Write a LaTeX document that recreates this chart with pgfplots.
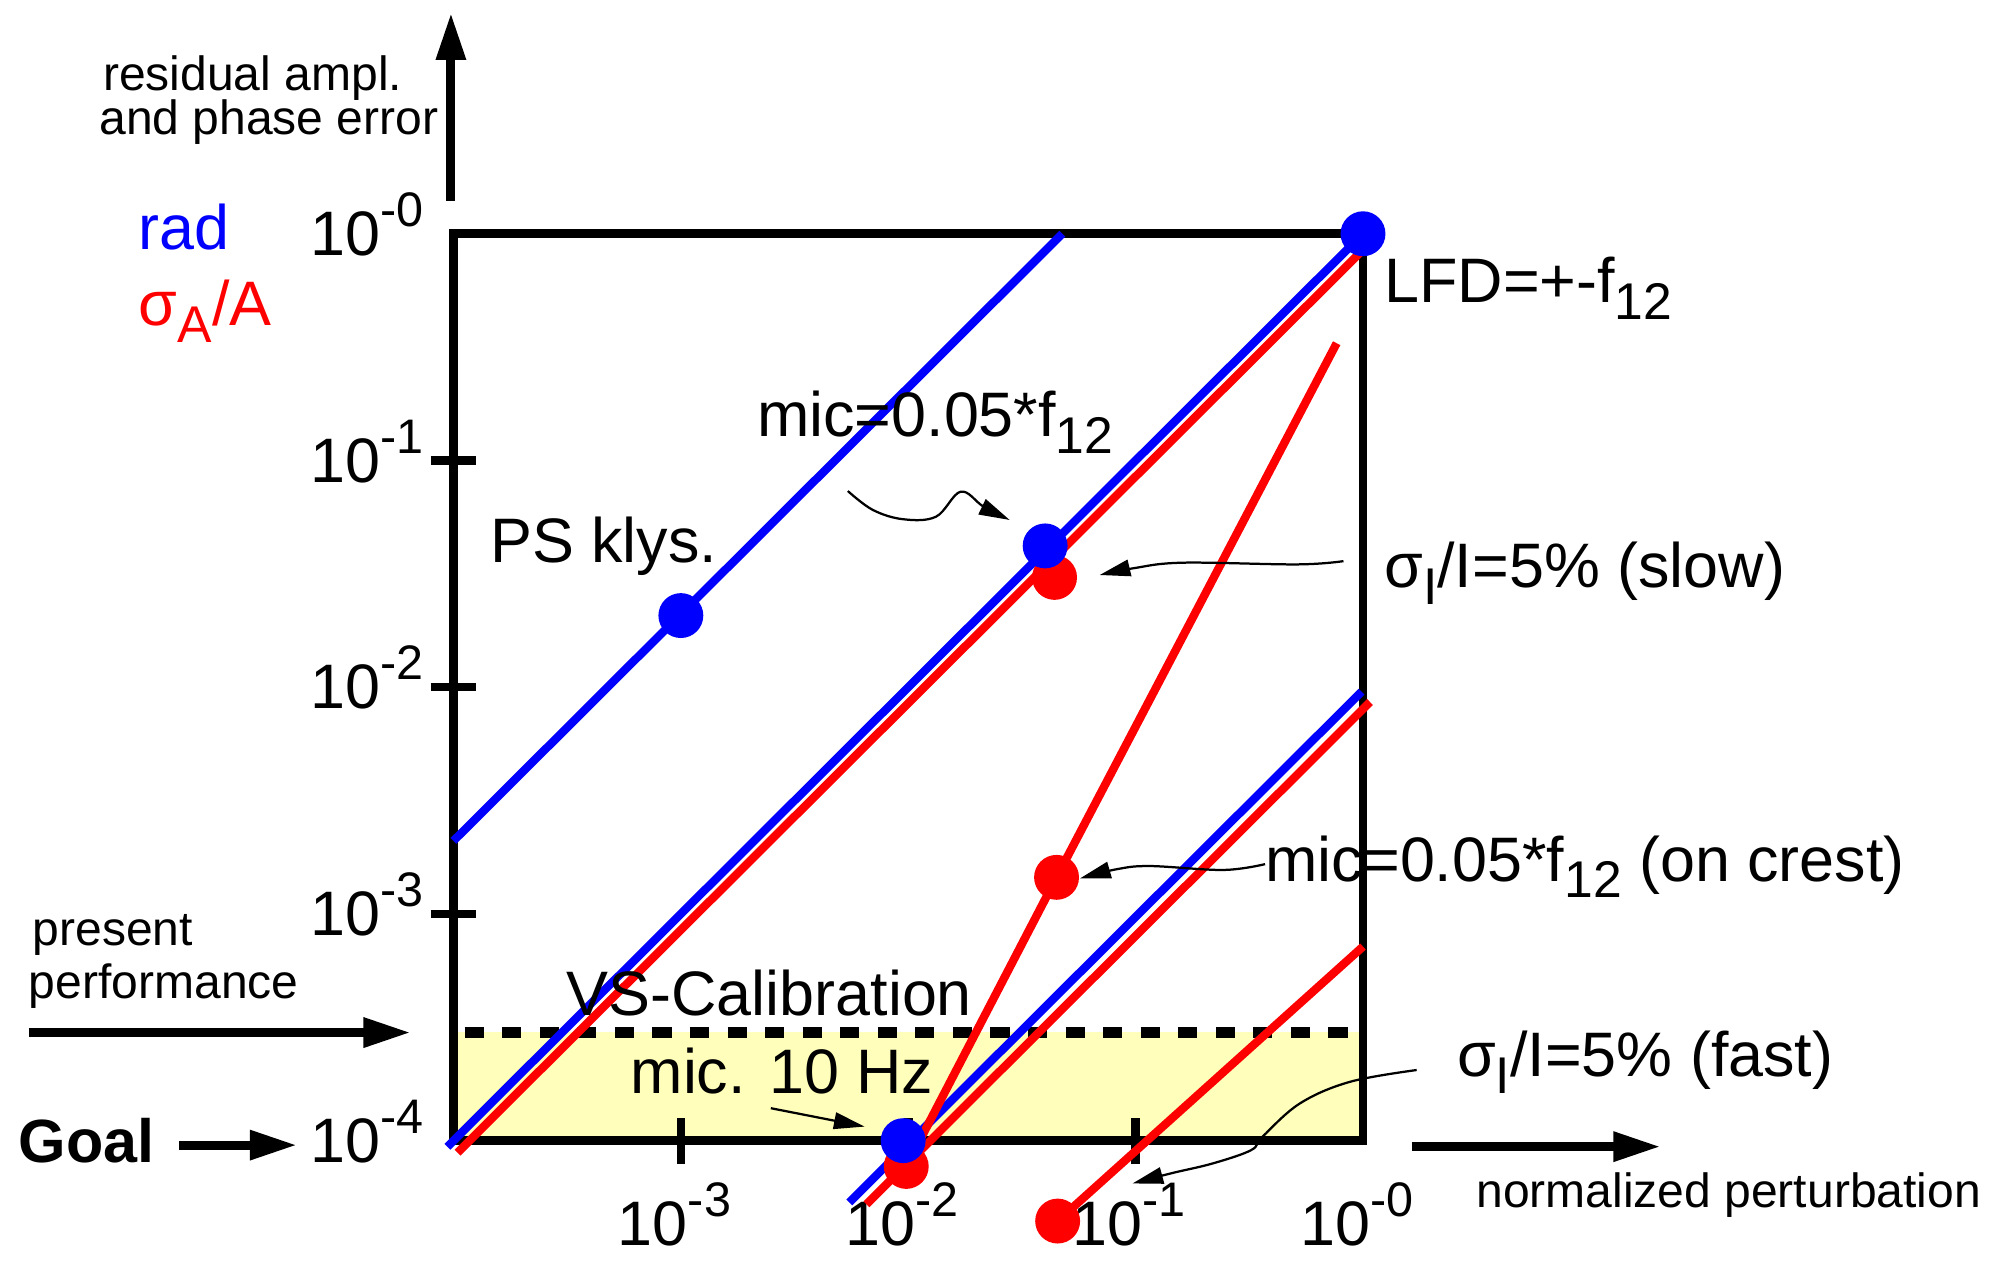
\documentclass[border=0pt]{standalone}
\usepackage{fontspec}
\setmainfont{Liberation Sans}
\usepackage{pgfplots}
\pgfplotsset{compat=1.18}
\usetikzlibrary{arrows.meta}

\definecolor{goalyellow}{RGB}{255,255,187}
\definecolor{pblue}{RGB}{0,0,255}
\definecolor{pred}{RGB}{255,0,0}

% decade labels 10^-k and lowered subscripts
\newcommand{\pw}[1]{10\raisebox{6.5pt}{\fontsize{10.8}{12}\selectfont -#1}}
\newcommand{\sub}[1]{\raisebox{-3.7pt}{\fontsize{11.5}{12}\selectfont #1}}
\newcommand{\lbig}{\fontsize{14}{16}\selectfont}
\newcommand{\lsmall}{\fontsize{10.7}{12}\selectfont}

\begin{document}
\begin{tikzpicture}
\begin{axis}[
  set layers,
  scale only axis, width=7.12cm, height=7.10cm,
  xmode=log, ymode=log,
  xmin=1e-4, xmax=1, ymin=1e-4, ymax=1,
  clip=false,
  axis line style={line width=1.9pt},
  every tick/.style={black, line width=1.9pt},
  tick align=center,
  major tick length=0.36cm,
  minor tick length=0pt,
  xtick={1e-3,1e-2,1e-1}, xticklabels={\pw{3},\pw{2},\pw{1}},
  ytick={1e-1,1e-2,1e-3}, yticklabels={\pw{1},\pw{2},\pw{3}},
  extra x ticks={1}, extra x tick labels={\pw{0}},
  extra x tick style={tick style={draw=none}},
  extra y ticks={1e-4,1}, extra y tick labels={\pw{4},\pw{0}},
  extra y tick style={tick style={draw=none}},
  xtick pos=bottom, ytick pos=left,
  ticklabel style={font=\lbig},
  xticklabel style={anchor=base, yshift=-0.64cm, xshift=-0.05cm},
  yticklabel style={anchor=base east, yshift=-0.17cm, xshift=0.07cm},
]

% goal band between 1e-4 and 3e-4, behind frame and ticks
\addplot[draw=none, fill=goalyellow, on layer=axis background]
  coordinates {(1e-4,1e-4) (1,1e-4) (1,3e-4) (1e-4,3e-4)};
% present performance level
\addplot[black, line width=2.45pt, dash pattern=on 0.15cm off 0.144cm]
  coordinates {(1.12e-4,3e-4) (0.90,3e-4)};

% phase error (rad)
\addplot[pblue, line width=1.85pt] coordinates {(1e-4,2.1e-3) (0.0476,1)};
\addplot[pblue, line width=1.85pt] coordinates {(9.4e-5,9.4e-5) (1,1)};
\addplot[pblue, line width=1.85pt] coordinates {(0.0055,5.34e-5) (0.985,0.00955)};

% amplitude error (sigma_A/A)
\addplot[pred, line width=1.85pt] coordinates {(1.042e-4,8.86e-5) (0.985,0.837)};
\addplot[pred, line width=1.85pt] coordinates {(0.00655,5.24e-5) (1.074,0.0086)};
\addplot[pred, line width=1.85pt] coordinates {(0.0098,7.7e-5) (0.0449,1.45e-3) (0.766,0.329)};
\addplot[pred, line width=1.85pt] coordinates {(0.0454,4.42e-5) (1.0,7.18e-4)};

\addplot[only marks, mark=*, mark size=4.8pt, mark options={draw=pred, fill=pred}]
  coordinates {(0.044,0.0305) (0.0449,1.45e-3) (0.0098,7.7e-5) (0.0454,4.42e-5)};
\addplot[only marks, mark=*, mark size=4.8pt, mark options={draw=pblue, fill=pblue}]
  coordinates {(1e-3,0.0207) (0.040,0.042) (0.0095,1.0e-4) (1,1)};

% axis arrows
\draw[line width=0.07cm, -{Triangle[length=0.37cm,width=0.22cm]}]
  (rel axis cs:-0.0028,1.0366) -- (rel axis cs:-0.0028,1.2437);
\draw[line width=0.07cm, -{Triangle[length=0.37cm,width=0.22cm]}]
  (rel axis cs:1.0534,-0.0066) -- (rel axis cs:1.3272,-0.0066);
\draw[line width=0.07cm, -{Triangle[length=0.37cm,width=0.22cm]}]
  (rel axis cs:-0.4667,0.1192) -- (rel axis cs:-0.0470,0.1192);
\draw[line width=0.07cm, -{Triangle[length=0.37cm,width=0.22cm]}]
  (rel axis cs:-0.3020,-0.0049) -- (rel axis cs:-0.1720,-0.0049);

% pointer arrows
\begin{scope}[line width=0.5pt, -{Triangle[length=0.24cm,width=0.13cm]}]
\draw plot[smooth, tension=0.6] coordinates {(rel axis cs:0.4336,0.7163) (rel axis cs:0.4610,0.6955) (rel axis cs:0.4945,0.6852) (rel axis cs:0.5305,0.6880) (rel axis cs:0.5577,0.7156) (rel axis cs:0.5829,0.6990) (rel axis cs:0.6115,0.6844)};
\draw plot[smooth, tension=0.6] coordinates {(rel axis cs:0.9785,0.6390) (rel axis cs:0.9279,0.6354) (rel axis cs:0.8018,0.6373) (rel axis cs:0.7472,0.6311) (rel axis cs:0.7105,0.6237)};
\draw plot[smooth, tension=0.6] coordinates {(rel axis cs:0.8923,0.3049) (rel axis cs:0.8465,0.2985) (rel axis cs:0.7659,0.3028) (rel axis cs:0.7292,0.2993) (rel axis cs:0.6889,0.2892)};
\draw plot[smooth, tension=0.6] coordinates {(rel axis cs:1.0590,0.0779) (rel axis cs:0.9857,0.0649) (rel axis cs:0.9307,0.0411) (rel axis cs:0.8896,0.0044) (rel axis cs:0.8770,-0.0104) (rel axis cs:0.8348,-0.0251) (rel axis cs:0.7886,-0.0361) (rel axis cs:0.7466,-0.0472)};
\draw (rel axis cs:0.3489,0.0358) -- (rel axis cs:0.4520,0.0155);
\end{scope}

% labels
\begin{scope}[every node/.style={anchor=base west, inner sep=0pt}]
\node[font=\lsmall] at (rel axis cs:-0.3862,1.1580) {residual ampl.};
\node[font=\lsmall] at (rel axis cs:-0.3904,1.1099) {and phase error};
\node[font=\lbig, text=pblue] at (rel axis cs:-0.3469,0.9831) {rad};
\node[font=\lbig, text=pred] at (rel axis cs:-0.3469,0.8986) {σ\sub{A}/A};
\node[font=\lbig] at (rel axis cs:1.0225,0.9239) {LFD=+-f\sub{12}};
\node[font=\lbig] at (rel axis cs:0.3329,0.7761) {mic=0.05*f\sub{12}};
\node[font=\lbig] at (rel axis cs:0.0393,0.6380) {PS klys.};
\node[font=\lbig] at (rel axis cs:1.0225,0.6099) {σ\sub{I}/I=5\% (slow)};
\node[font=\lbig] at (rel axis cs:0.8919,0.2859) {mic=0.05*f\sub{12} (on crest)};
\node[font=\lsmall] at (rel axis cs:-0.4635,0.2155) {present};
\node[font=\lsmall] at (rel axis cs:-0.4677,0.1563) {performance};
\node[font=\lbig] at (rel axis cs:0.1236,0.1380) {VS-Calibration};
\node[font=\lbig] at (rel axis cs:0.1938,0.0521) {mic. 10 Hz};
\node[font=\lbig] at (rel axis cs:1.1025,0.0704) {σ\sub{I}/I=5\% (fast)};
\node[font=\fontsize{13.6}{16}\selectfont\bfseries] at (rel axis cs:-0.4789,-0.0239) {Goal};
\node[font=\lsmall] at (rel axis cs:1.1236,-0.0732) {normalized perturbation};
\end{scope}

\coordinate (bbsw) at (rel axis cs:-0.4986,-0.13521);
\coordinate (bbne) at (rel axis cs:1.70365,1.25775);
\end{axis}
\pgfresetboundingbox
\path[use as bounding box] (bbsw) rectangle (bbne);
\end{tikzpicture}
\end{document}
